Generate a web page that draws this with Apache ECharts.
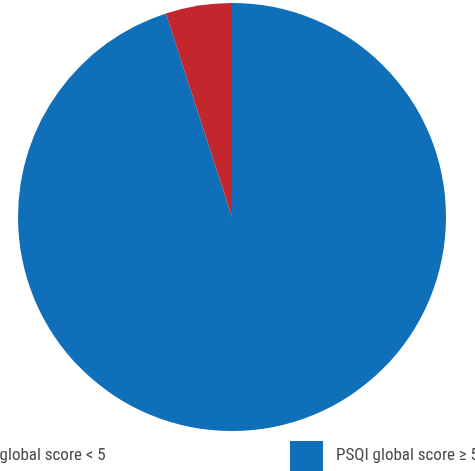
<!DOCTYPE html>
<html>
<head>
<meta charset="utf-8">
<script src="https://cdn.jsdelivr.net/npm/echarts@6/dist/echarts.min.js"></script>
<style>html,body{margin:0;padding:0;background:#fff;}#c{width:475px;height:471px;}</style>
</head>
<body>
<div id="c"></div>
<script>
const categories = ['PSQI global score ≥ 5', 'PSQI global score < 5'];
const values = [95, 5];
const colors = ['#0F6FB8', '#C1272D'];

const chart = echarts.init(document.getElementById('c'), null, {renderer: 'canvas'});
const font = '"Roboto Condensed", sans-serif';
const legendText = {color: '#4a4a4a', fontSize: 17, fontFamily: font, padding: [0, 0, 0, 8]};
chart.setOption({
  animation: false,
  legend: [
    {data: [categories[1]], left: -83, top: 441, padding: 0, itemWidth: 33, itemHeight: 30, icon: 'rect', textStyle: legendText, selectedMode: false},
    {data: [categories[0]], left: 290, top: 441, padding: 0, itemWidth: 33, itemHeight: 30, icon: 'rect', textStyle: legendText, selectedMode: false}
  ],
  series: [{
    type: 'pie',
    center: [232, 217],
    radius: [0, 214],
    startAngle: 90,
    clockwise: true,
    label: {show: false},
    labelLine: {show: false},
    emphasis: {disabled: true},
    itemStyle: {borderWidth: 0},
    data: categories.map((c, i) => ({name: c, value: values[i], itemStyle: {color: colors[i]}}))
  }]
});
</script>
</body>
</html>
